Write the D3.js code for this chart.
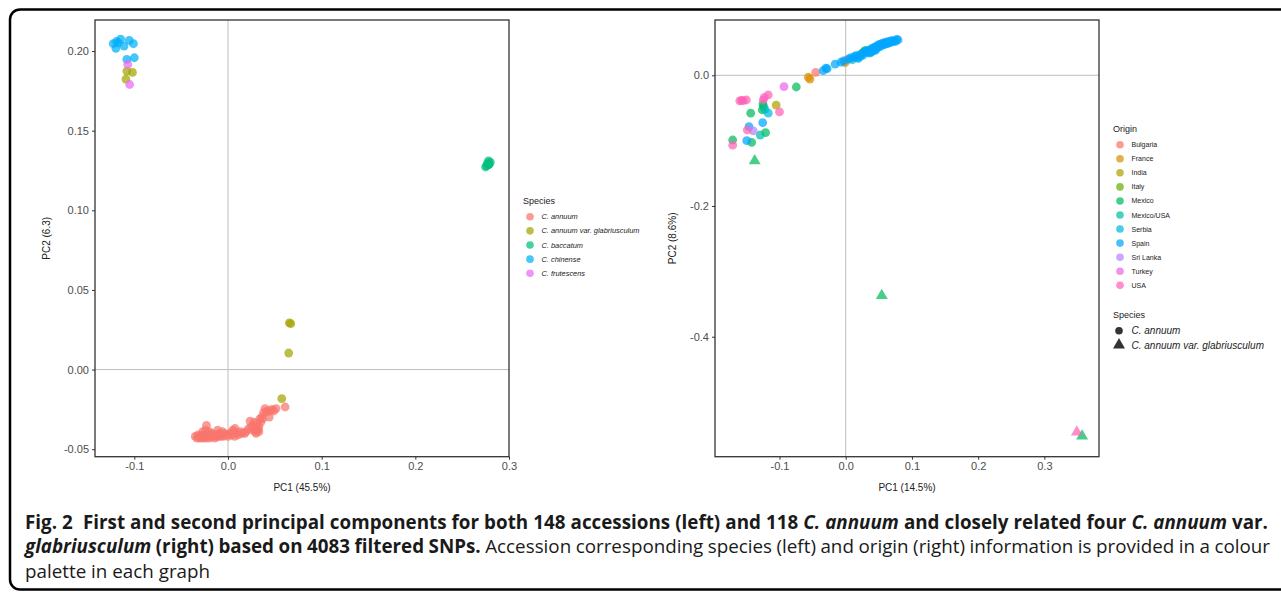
<!DOCTYPE html>
<html><head><meta charset="utf-8">
<script src="https://cdn.jsdelivr.net/npm/d3@7"></script>
<style>
body{margin:0;background:#fff;}
svg{display:block;}
text{font-family:"Liberation Sans",Arial,sans-serif;}
text.cap{font-family:"Open Sans",sans-serif;}
</style></head>
<body><svg id="c" width="1281" height="592"></svg>
<script>
// ---------- Left panel data (PC1, PC2) ----------
const leftSpecies = ["C. annuum","C. annuum var. glabriusculum","C. baccatum","C. chinense","C. frutescens"];
const leftColors = ["#F8766D","#A3A500","#00BF7D","#00B0F6","#E76BF3"];
const leftAnnuum = [[-0.035,-0.042],[-0.033,-0.043],[-0.032,-0.041],[-0.031,-0.042],[-0.030,-0.043],[-0.029,-0.042],[-0.028,-0.041],[-0.027,-0.043],[-0.026,-0.042],[-0.025,-0.041],[-0.024,-0.043],[-0.023,-0.042],[-0.023,-0.035],[-0.022,-0.040],[-0.021,-0.042],[-0.020,-0.043],[-0.019,-0.041],[-0.018,-0.042],[-0.017,-0.040],[-0.016,-0.042],[-0.015,-0.041],[-0.014,-0.043],[-0.013,-0.042],[-0.012,-0.041],[-0.010,-0.042],[-0.009,-0.040],[-0.008,-0.042],[-0.007,-0.041],[-0.005,-0.042],[-0.004,-0.040],[-0.002,-0.041],[0.000,-0.042],[0.002,-0.040],[0.004,-0.041],[0.006,-0.039],[0.007,-0.042],[0.0075,-0.037],[0.009,-0.040],[0.011,-0.041],[0.013,-0.039],[0.015,-0.040],[-0.027,-0.039],[-0.024,-0.038],[-0.020,-0.039],[-0.011,-0.038],[-0.006,-0.039],[0.005,-0.038],[0.018,-0.040],[0.019,-0.039],[0.022,-0.037],[0.0235,-0.0323],[0.025,-0.036],[0.026,-0.038],[0.027,-0.035],[0.028,-0.033],[0.029,-0.039],[0.030,-0.036],[0.031,-0.034],[0.031,-0.038],[0.032,-0.0377],[0.033,-0.036],[0.034,-0.031],[0.035,-0.033],[0.036,-0.0298],[0.037,-0.031],[0.038,-0.027],[0.0395,-0.0245],[0.041,-0.0266],[0.042,-0.026],[0.044,-0.0298],[0.045,-0.026],[0.047,-0.025],[0.049,-0.026],[0.0513,-0.0245],[0.061,-0.0235],[0.033,-0.039],[0.030,-0.040]];
const leftGlab = [[-0.108,0.1874],[-0.102,0.1866],[-0.109,0.1824],[0.0655,0.0293],[0.067,0.0288],[0.0648,0.0104],[0.0574,-0.0182]];
const leftBaccatum = [[0.278,0.1310],[0.276,0.1280],[0.279,0.1290],[0.277,0.1295],[0.275,0.1272],[0.280,0.1302],[0.278,0.1285]];
const leftChinense = [[-0.1225,0.2046],[-0.1197,0.2017],[-0.117,0.2052],[-0.1146,0.2075],[-0.111,0.2031],[-0.1054,0.2067],[-0.101,0.2046],[-0.119,0.2060],[-0.108,0.1948],[-0.100,0.1958]];
const leftFrutescens = [[-0.107,0.1916],[-0.105,0.1790]];

// ---------- Right panel data (PC1, PC2) ----------
const origins = ["Bulgaria","France","India","Italy","Mexico","Mexico/USA","Serbia","Spain","Sri Lanka","Turkey","USA"];
const originColors = ["#F8766D","#DB8E00","#AEA200","#64B200","#00BD5C","#00C1A7","#00BADE","#00A6FF","#B385FF","#EF67EB","#FF63B6"];
const rightSpecies = ["C. annuum","C. annuum var. glabriusculum"];
const rBulgaria = [[-0.0453,0.0046],[0.0015,0.0234]];
const rFrance = [[-0.0565,-0.003],[-0.054,-0.0057],[-0.001,0.0193]];
const rIndia = [[-0.105,-0.0455],[0.038,0.035]];
const rItaly = [[0.027,0.036]];
const rMexico = [[-0.0746,-0.0179],[-0.125,-0.044],[-0.124,-0.048],[-0.126,-0.053],[-0.1435,-0.058],[-0.121,-0.0878],[-0.1707,-0.099],[-0.142,-0.1025],[0.030,0.038]];
const rMexicoUSA = [[-0.122,-0.052],[-0.129,-0.0914]];
const rSerbia = [[0.010,0.024],[0.036,0.034],[0.052,0.044],[-0.117,-0.058]];
const rSpain = [[-0.034,0.007],[-0.030,0.011],[-0.028,0.010],[-0.016,0.017],[-0.007,0.020],[-0.003,0.022],[0.005,0.025],[0.008,0.027],[0.013,0.028],[0.015,0.030],[0.017,0.027],[0.020,0.031],[0.022,0.029],[0.024,0.033],[0.026,0.031],[0.028,0.035],[0.031,0.037],[0.033,0.035],[0.035,0.038],[0.038,0.040],[0.040,0.037],[0.041,0.042],[0.043,0.039],[0.044,0.043],[0.046,0.041],[0.047,0.045],[0.049,0.043],[0.050,0.047],[0.053,0.048],[0.055,0.046],[0.056,0.049],[0.058,0.047],[0.059,0.050],[0.061,0.048],[0.062,0.051],[0.064,0.049],[0.066,0.052],[0.067,0.050],[0.069,0.053],[0.071,0.051],[0.073,0.053],[0.075,0.052],[0.077,0.055],[0.079,0.054],[0.045,0.038],[0.039,0.036],[0.019,0.026],[-0.1254,-0.0725],[-0.146,-0.0786],[-0.1495,-0.100]];
const rSriLanka = [[-0.1396,-0.0852]];
const rTurkey = [[-0.0932,-0.0174],[-0.123,-0.0337]];
const rUSA = [[-0.160,-0.0393],[-0.155,-0.0389],[-0.150,-0.0378],[-0.157,-0.0385],[-0.117,-0.030],[-0.1245,-0.0378],[-0.100,-0.056],[-0.1486,-0.0837],[-0.1707,-0.107]];
const rGlabMexico = [[-0.1375,-0.131],[0.0544,-0.3372],[0.357,-0.552]];
const rGlabUSA = [[0.349,-0.546]];

// ---------- Tick values / labels ----------
const leftXTicks = [-0.1,0,0.1,0.2,0.3];
const leftYTicks = [-0.05,0,0.05,0.10,0.15,0.20];
const rightXTicks = [-0.1,0,0.1,0.2,0.3];
const rightYTicks = [-0.4,-0.2,0];

const loc = d3.formatLocale({decimal:".",thousands:",",grouping:[3],currency:["$",""],minus:"-"});
const f1 = loc.format(".1f"), f2 = loc.format(".2f");

const svg = d3.select("#c");
const ALPHA = 0.72;

// frame
svg.append("rect").attr("x",10).attr("y",9.5).attr("width",1300).attr("height",580)
  .attr("rx",10).attr("fill","none").attr("stroke","#000").attr("stroke-width",2.5);

function panel(xs, ys, xt, yt, xf, yf, xTitle, yTitle, yTitleX, xTitleY){
  const [x0,x1] = xs.range(), [y0,y1] = ys.range();
  const g = svg.append("g");
  g.append("line").attr("x1",xs(0)).attr("x2",xs(0)).attr("y1",y1).attr("y2",y0).attr("stroke","#bdbdbd").attr("stroke-width",1);
  g.append("line").attr("x1",x0).attr("x2",x1).attr("y1",ys(0)).attr("y2",ys(0)).attr("stroke","#bdbdbd").attr("stroke-width",1);
  const ax = g.append("g").attr("transform",`translate(0,${y0})`).call(d3.axisBottom(xs).tickValues(xt).tickFormat(xf).tickSize(3).tickPadding(3));
  const ay = g.append("g").attr("transform",`translate(${x0},0)`).call(d3.axisLeft(ys).tickValues(yt).tickFormat(yf).tickSize(3).tickPadding(3));
  [ax,ay].forEach(a=>{
    a.select(".domain").remove();
    a.selectAll(".tick line").attr("stroke","#333");
    a.selectAll(".tick text").attr("fill","#4d4d4d").style("font-size","11px").style("font-family","Liberation Sans, Arial, sans-serif");
  });
  g.append("rect").attr("x",x0).attr("y",y1).attr("width",x1-x0).attr("height",y0-y1)
    .attr("fill","none").attr("stroke","#333").attr("stroke-width",1.3);
  g.append("text").attr("x",(x0+x1)/2).attr("y",xTitleY).attr("text-anchor","middle")
    .style("font-size","10px").attr("fill","#222").text(xTitle);
  g.append("text").attr("transform",`translate(${yTitleX},${(y0+y1)/2}) rotate(-90)`).attr("text-anchor","middle")
    .style("font-size","10px").attr("fill","#222").text(yTitle);
  return g;
}

// ---------- Left panel ----------
const xL = d3.scaleLinear().domain([-0.142,0.3]).range([95,509]);
const yL = d3.scaleLinear().domain([-0.0547,0.2195]).range([456.7,20]);
const gL = panel(xL,yL,leftXTicks,leftYTicks,f1,f2,"PC1 (45.5%)","PC2 (6.3)",50,491);
const leftSets = [leftAnnuum,leftGlab,leftBaccatum,leftChinense,leftFrutescens];
leftSets.forEach((s,i)=>{
  gL.append("g").selectAll("circle").data(s).join("circle")
    .attr("cx",d=>xL(d[0])).attr("cy",d=>yL(d[1])).attr("r",4.4)
    .attr("fill",leftColors[i]).attr("fill-opacity",ALPHA);
});
const lgL = svg.append("g");
lgL.append("text").attr("x",523).attr("y",204).style("font-size","9px").attr("fill","#222").text("Species");
leftSpecies.forEach((n,i)=>{
  const yy = 216.7 + i*14.15;
  lgL.append("circle").attr("cx",530).attr("cy",yy).attr("r",3.8).attr("fill",leftColors[i]).attr("fill-opacity",ALPHA);
  lgL.append("text").attr("x",541.5).attr("y",yy+2.6).style("font-size","7.4px").style("font-style","italic").attr("fill","#222").text(n);
});

// ---------- Right panel ----------
const xR = d3.scaleLinear().domain([-0.1974,0.3825]).range([715,1099]);
const yR = d3.scaleLinear().domain([-0.5836,0.0846]).range([456.7,20]);
const gR = panel(xR,yR,rightXTicks,rightYTicks,f1,f1,"PC1 (14.5%)","PC2 (8.6%)",676,491);
const rightSets = [rBulgaria,rFrance,rIndia,rItaly,rMexico,rMexicoUSA,rSerbia,rSpain,rSriLanka,rTurkey,rUSA];
rightSets.forEach((s,i)=>{
  gR.append("g").selectAll("circle").data(s).join("circle")
    .attr("cx",d=>xR(d[0])).attr("cy",d=>yR(d[1])).attr("r",4.4)
    .attr("fill",originColors[i]).attr("fill-opacity",ALPHA);
});
const tri = d3.symbol().type(d3.symbolTriangle).size(62);
[[rGlabMexico,4],[rGlabUSA,10]].forEach(([s,ci])=>{
  gR.append("g").selectAll("path").data(s).join("path")
    .attr("d",tri).attr("transform",d=>`translate(${xR(d[0])},${yR(d[1])})`)
    .attr("fill",originColors[ci]).attr("fill-opacity",ALPHA);
});
const lgR = svg.append("g");
lgR.append("text").attr("x",1113).attr("y",132).style("font-size","9px").attr("fill","#222").text("Origin");
origins.forEach((n,i)=>{
  const yy = 144.7 + i*14.06;
  lgR.append("circle").attr("cx",1120).attr("cy",yy).attr("r",3.8).attr("fill",originColors[i]).attr("fill-opacity",ALPHA);
  lgR.append("text").attr("x",1131.5).attr("y",yy+2.5).style("font-size","7px").attr("fill","#222").text(n);
});
lgR.append("text").attr("x",1113).attr("y",318).style("font-size","9px").attr("fill","#222").text("Species");
rightSpecies.forEach((n,i)=>{
  const yy = 330.7 + i*14.3;
  if(i===0) lgR.append("circle").attr("cx",1119).attr("cy",yy).attr("r",3.8).attr("fill","#333");
  else lgR.append("path").attr("d",tri).attr("transform",`translate(1119,${yy})`).attr("fill","#333");
  lgR.append("text").attr("x",1131.5).attr("y",yy+3.5).style("font-size","10px").style("font-style","italic").attr("fill","#222").text(n);
});

// ---------- Caption ----------
const cap = svg.append("g").attr("fill","#1a1a1a");
const lines = [
  {y:529.5, target:1243, parts:[["Fig. 2  First and second principal components for both 148 accessions (left) and 118 ","bold",""],["C. annuum","bold","italic"],[" and closely related four ","bold",""],["C. annuum","bold","italic"],[" var.","bold",""]]},
  {y:553.5, target:1245, parts:[["glabriusculum","bold","italic"],[" (right) based on 4083 filtered SNPs.","bold",""],[" Accession corresponding species (left) and origin (right) information is provided in a colour","normal",""]]},
  {y:578.5, target:null, parts:[["palette in each graph","normal",""]]}
];
const capX = 25;
const nodes = lines.map(L=>{
  const t = cap.append("text").attr("class","cap").attr("x",capX).attr("y",L.y).attr("xml:space","preserve")
    .style("font-size","18.7px");
  L.parts.forEach(p=>t.append("tspan").text(p[0]).style("font-weight",p[1]).style("font-style",p[2]||"normal"));
  return t;
});
const w3 = nodes[2].node().getComputedTextLength();
const sx = 185 / w3;
nodes.forEach((t,i)=>{
  t.attr("transform",`translate(${capX},0) scale(${sx},1) translate(${-capX},0)`);
  const L = lines[i];
  if(L.target){
    const nat = t.node().getComputedTextLength();
    const txt = L.parts.map(p=>p[0]).join("");
    const spaces = (txt.match(/ /g)||[]).length;
    const ws = (L.target/sx - nat)/spaces;
    t.style("word-spacing", ws+"px");
  }
});
</script></body></html>
